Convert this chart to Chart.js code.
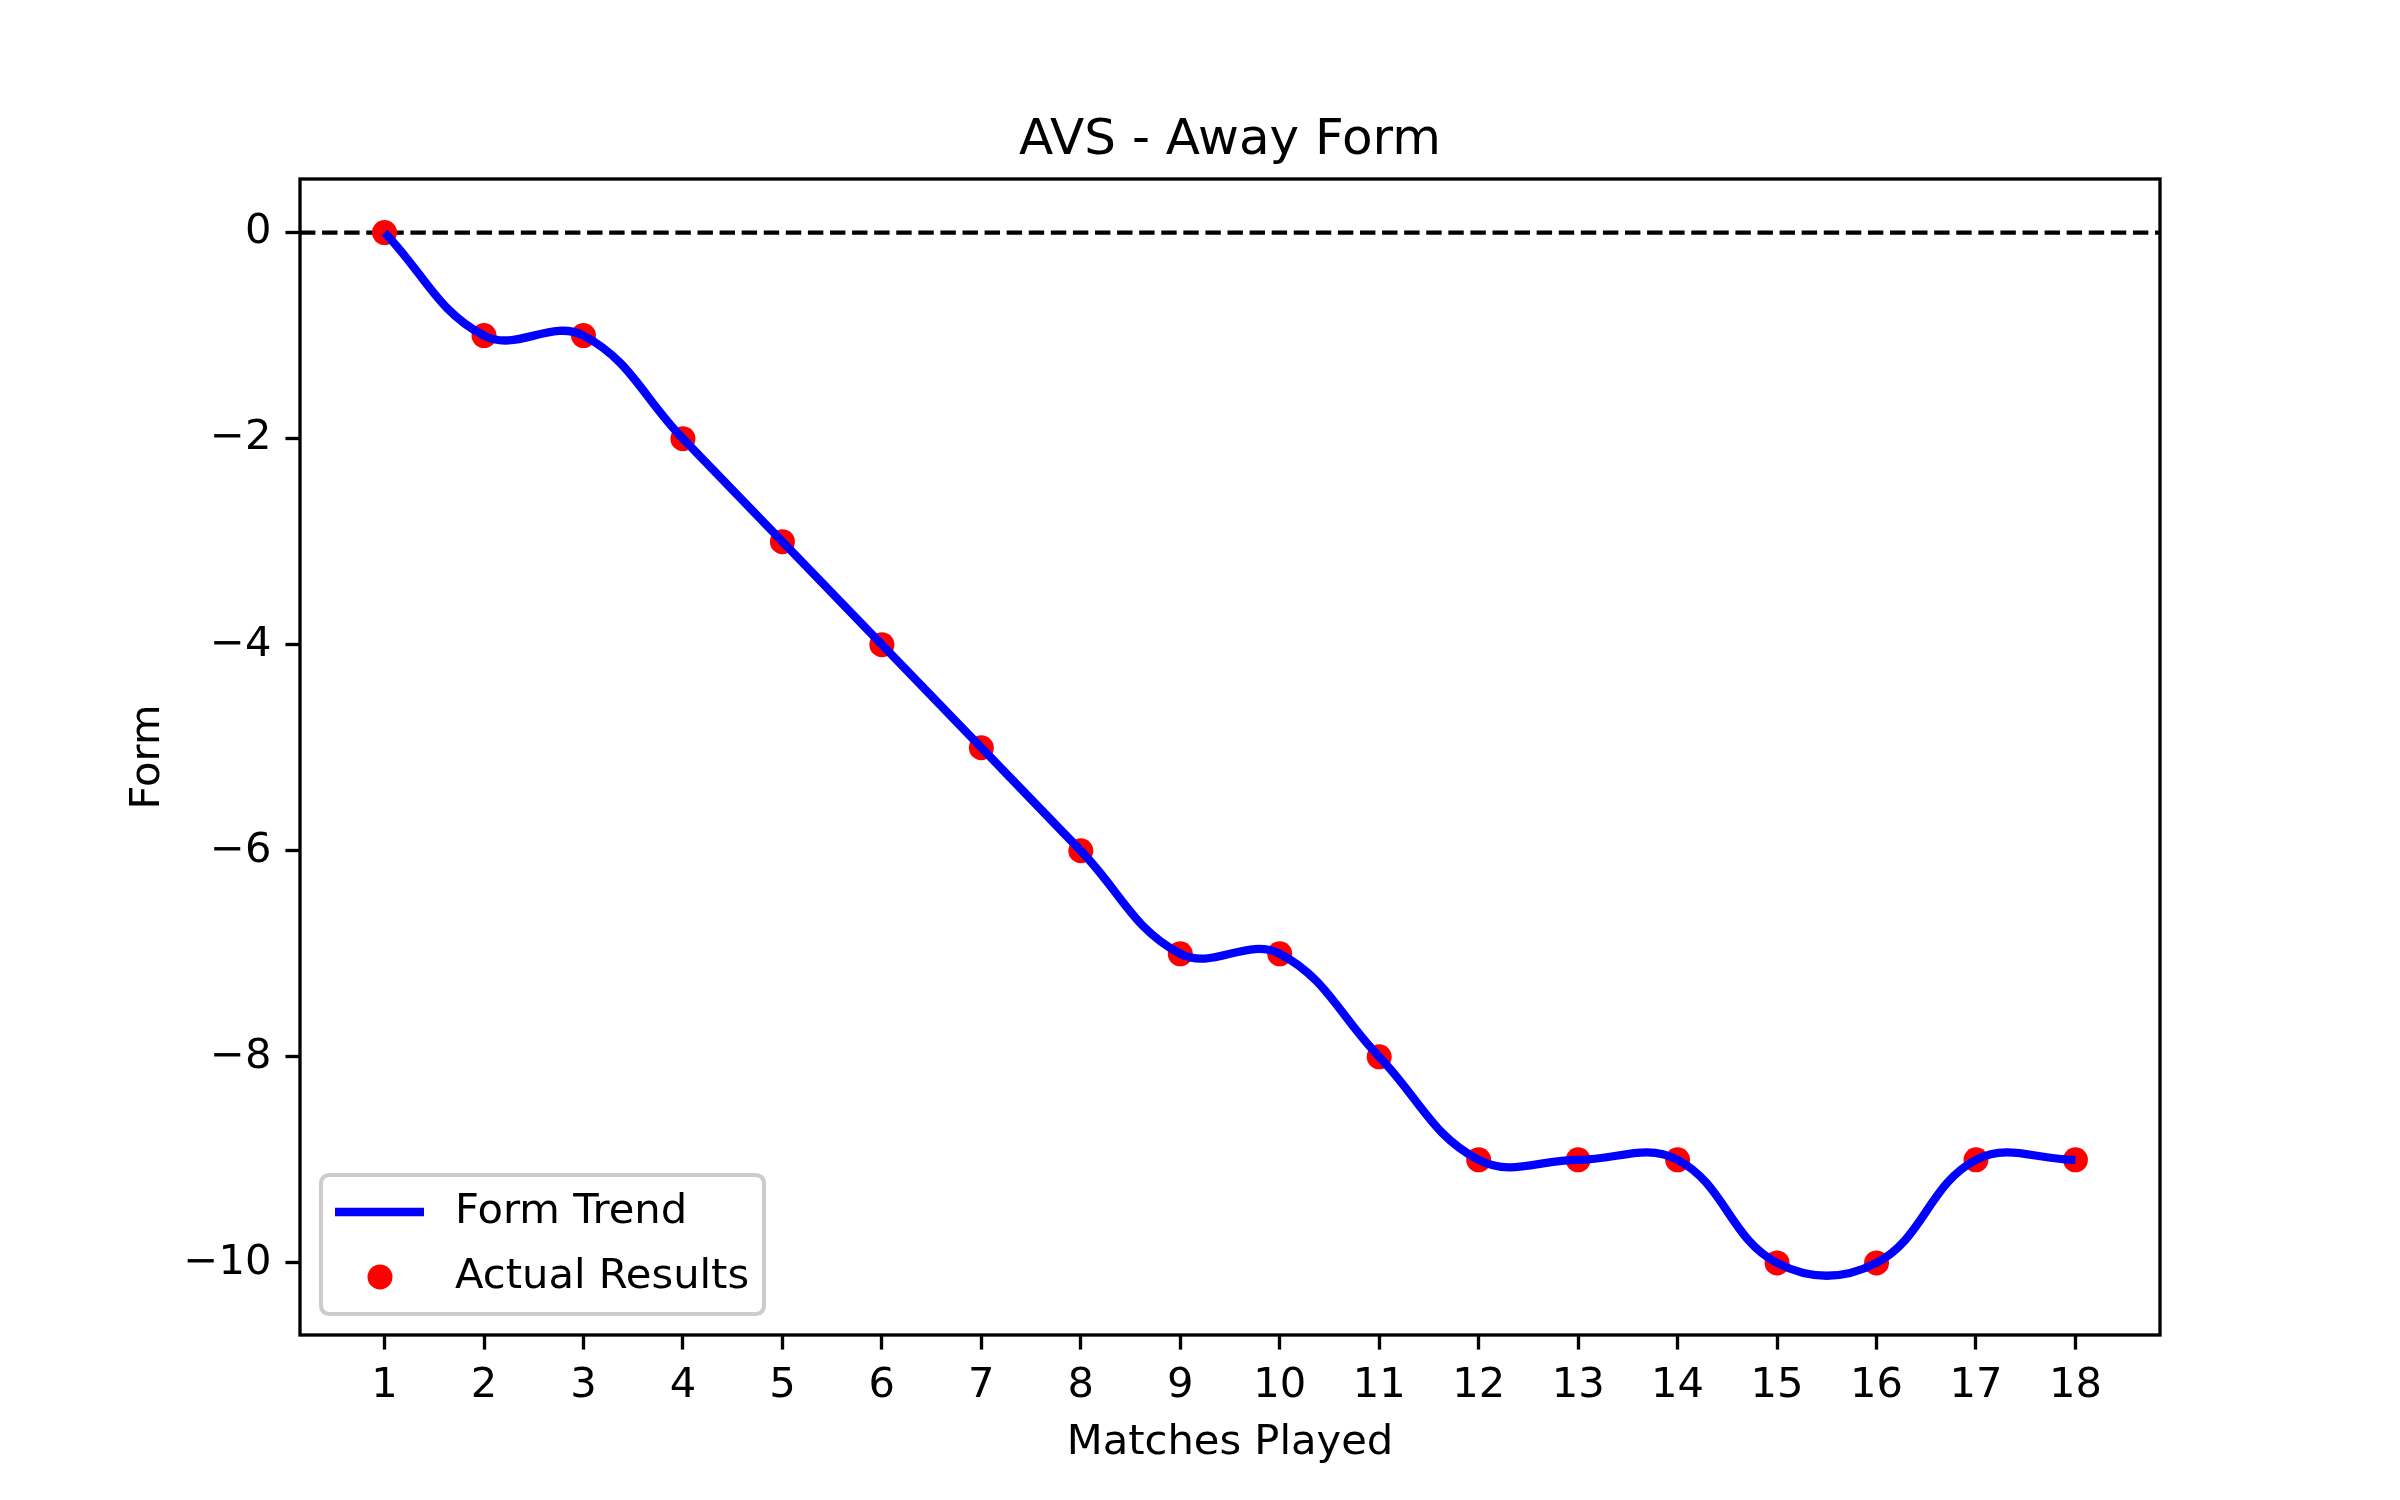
<!DOCTYPE html>
<html lang="en">
<head>
  <meta charset="UTF-8" />
  <title>AVS - Away Form</title>
  <style>
    body {
      margin: 0;
      background: #fff;
    }
    .wrap {
      width: 2400px;
      height: 1500px;
    }
  </style>
</head>
<body>
  <div class="wrap"><canvas id="formChart"></canvas></div>

  <script src="https://cdn.jsdelivr.net/npm/chart.js"></script>
  <script>
    const matches = [1, 2, 3, 4, 5, 6, 7, 8, 9, 10, 11, 12, 13, 14, 15, 16, 17, 18];
    const form = [0, -1, -1, -2, -3, -4, -5, -6, -7, -7, -8, -9, -9, -9, -10, -10, -9, -9];
    const xTicks = matches;
    const yTicks = [0, -2, -4, -6, -8, -10];
    const zeroLine = 0;
    const chartTitle = "AVS - Away Form";
    const legendLabels = ["Form Trend", "Actual Results"];

    const points = matches.map((m, i) => ({ x: m, y: form[i] }));
    const font = "DejaVu Sans";
    const pt = 300 / 72; // figure was 300 dpi
    const lw = 0.8 * pt;

    // title over the plot area, dashed zero line, axes frame and legend
    const extras = {
      id: "extras",
      beforeDatasetsDraw(chart) {
        const { ctx, chartArea, scales } = chart;
        const y = scales.y.getPixelForValue(zeroLine);
        ctx.save();
        ctx.strokeStyle = "#000";
        ctx.lineWidth = 1 * pt;
        ctx.setLineDash([3.7 * pt, 1.6 * pt]);
        ctx.beginPath();
        ctx.moveTo(chartArea.left, y);
        ctx.lineTo(chartArea.right, y);
        ctx.stroke();
        ctx.restore();
      },
      afterDraw(chart) {
        const { ctx, chartArea } = chart;
        ctx.save();
        ctx.fillStyle = "#000";
        ctx.font = (12 * pt) + "px '" + font + "'";
        ctx.textAlign = "center";
        ctx.textBaseline = "middle";
        ctx.fillText(chartTitle, (chartArea.left + chartArea.right) / 2, 141);

        ctx.strokeStyle = "#000";
        ctx.lineWidth = lw;
        ctx.strokeRect(chartArea.left, chartArea.top,
          chartArea.right - chartArea.left, chartArea.bottom - chartArea.top);

        // legend box
        const bx = chartArea.left + 21, by = chartArea.bottom - 21;
        const bw = 443, bh = 139;
        ctx.beginPath();
        ctx.roundRect(bx, by - bh, bw, bh, 8);
        ctx.fillStyle = "rgba(255,255,255,0.8)";
        ctx.fill();
        ctx.strokeStyle = "#cccccc";
        ctx.lineWidth = 1 * pt;
        ctx.stroke();

        const row1 = by - bh + 37, row2 = by - bh + 102;
        ctx.strokeStyle = "#0000ff";
        ctx.lineWidth = 2 * pt;
        ctx.beginPath();
        ctx.moveTo(bx + 14, row1);
        ctx.lineTo(bx + 103, row1);
        ctx.stroke();

        ctx.fillStyle = "#ff0000";
        ctx.beginPath();
        ctx.arc(bx + 59, row2, 3 * pt, 0, Math.PI * 2);
        ctx.fill();

        ctx.fillStyle = "#000";
        ctx.font = (10 * pt) + "px '" + font + "'";
        ctx.textAlign = "left";
        ctx.textBaseline = "middle";
        ctx.fillText(legendLabels[0], bx + 134, row1);
        ctx.fillText(legendLabels[1], bx + 134, row2);
        ctx.restore();
      }
    };

    const minus = v => (v < 0 ? "\u2212" + Math.abs(v) : String(v));

    new Chart(document.getElementById("formChart"), {
      type: "line",
      data: {
        datasets: [
          {
            label: legendLabels[0],
            data: points,
            borderColor: "#0000ff",
            borderWidth: 2 * pt,
            pointRadius: 0,
            tension: 0.4,
            fill: false,
            order: 0
          },
          {
            type: "scatter",
            label: legendLabels[1],
            data: points,
            backgroundColor: "#ff0000",
            borderWidth: 0,
            pointRadius: 3 * pt,
            order: 1
          }
        ]
      },
      options: {
        responsive: true,
        maintainAspectRatio: false,
        animation: false,
        devicePixelRatio: 1,
        layout: { padding: { left: 0, right: 240, top: 179, bottom: 0 } },
        plugins: {
          legend: { display: false },
          tooltip: { enabled: false },
          title: { display: false }
        },
        scales: {
          x: {
            type: "linear",
            min: 0.15,
            max: 18.85,
            afterBuildTicks: s => { s.ticks = xTicks.map(v => ({ value: v })); },
            afterFit: s => { s.height = 165; },
            border: { display: false },
            grid: { drawOnChartArea: false, drawTicks: true, tickLength: 3.5 * pt, tickColor: "#000", tickWidth: lw },
            ticks: {
              autoSkip: false, maxRotation: 0, padding: 12, color: "#000",
              font: { family: font, size: 10 * pt }
            },
            title: {
              display: true, text: "Matches Played", color: "#000",
              font: { family: font, size: 10 * pt }, padding: { top: 0, bottom: 32 }
            }
          },
          y: {
            type: "linear",
            min: -10.7,
            max: 0.52,
            afterBuildTicks: s => { s.ticks = yTicks.map(v => ({ value: v })); },
            afterFit: s => { s.width = 300; },
            border: { display: false },
            grid: { drawOnChartArea: false, drawTicks: true, tickLength: 3.5 * pt, tickColor: "#000", tickWidth: lw },
            ticks: {
              padding: 14, color: "#000", callback: minus,
              font: { family: font, size: 10 * pt }
            },
            title: {
              display: true, text: "Form", color: "#000",
              font: { family: font, size: 10 * pt }, padding: { top: 123, bottom: 0 }
            }
          }
        }
      },
      plugins: [extras]
    });
  </script>
</body>
</html>
